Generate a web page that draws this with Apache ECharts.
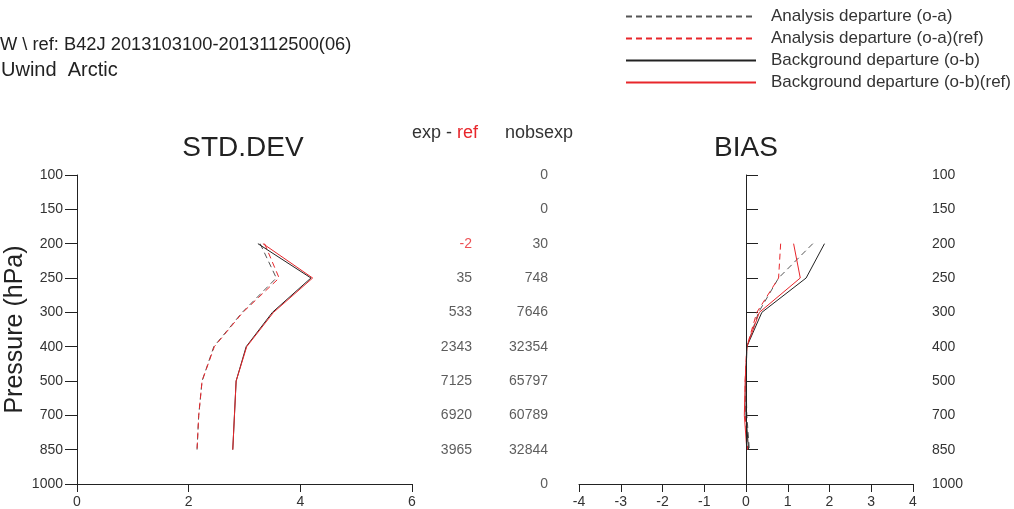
<!DOCTYPE html>
<html><head><meta charset="utf-8">
<script src="https://cdn.jsdelivr.net/npm/echarts@6/dist/echarts.min.js"></script>
<style>html,body{margin:0;padding:0;background:#fff}#c{width:1014px;height:509px}</style>
</head><body><div id="c"></div>
<script>
const levels = ['100','150','200','250','300','400','500','700','850','1000'];
// STD.DEV values per level (from 200 to 850 hPa)
const dataLevels = ['200','250','300','400','500','700','850'];
const stdOA    = [3.28, 3.57, 2.96, 2.45, 2.24, 2.18, 2.15];
const stdOAref = [3.36, 3.62, 2.97, 2.46, 2.24, 2.18, 2.15];
const stdOB    = [3.24, 4.19, 3.50, 3.03, 2.85, 2.82, 2.79];
const stdOBref = [3.33, 4.22, 3.52, 3.04, 2.85, 2.82, 2.79];
// BIAS values
const biasOA    = [1.60, 0.78, 0.30, 0.02, 0.00, 0.02, 0.08];
const biasOAref = [0.83, 0.78, 0.26, 0.02, -0.02, -0.02, 0.04];
const biasOB    = [1.88, 1.44, 0.38, 0.02, 0.00, 0.00, 0.06];
const biasOBref = [1.14, 1.30, 0.32, 0.02, -0.02, -0.04, 0.02];
// text columns
const expMinusRefLevels = ['200','250','300','400','500','700','850'];
const expMinusRef = ['-2','35','533','2343','7125','6920','3965'];
const nobsexp = ['0','0','30','748','7646','32354','65797','60789','32844','0'];
const stdTicks = [0, 6, 2];
const biasTicks = [-4, 4, 1];

const names = ['Analysis departure (o-a)','Analysis departure (o-a)(ref)','Background departure (o-b)','Background departure (o-b)(ref)'];
const styles = [
  {color:'#555555', type:[6,4]},
  {color:'#e8262b', type:[6,4]},
  {color:'#222222', type:'solid'},
  {color:'#e8262b', type:'solid'}
];
const FONT = 'Liberation Sans, Arial, sans-serif';
const pair = arr => arr.map((v,i)=>[v, dataLevels[i]]);

function mkSeries(arrs, xi){
  return arrs.map((a,k)=>({
    type:'line', name:names[k], xAxisIndex:xi, yAxisIndex:xi,
    data: pair(a), symbol:'none', silent:true, animation:false,
    lineStyle:{color:styles[k].color, type:styles[k].type, width:1},
    itemStyle:{color:styles[k].color}, z: k
  }));
}

const axisLineStyle = {lineStyle:{color:'#222', width:1}};
const labelStyle = {color:'#333', fontSize:14, fontFamily:FONT};

const series = [
  ...mkSeries([stdOA, stdOAref, stdOB, stdOBref], 0),
  ...mkSeries([biasOA, biasOAref, biasOB, biasOBref], 1),
  {
    type:'scatter', xAxisIndex:2, yAxisIndex:2, symbolSize:0, silent:true, animation:false,
    data: expMinusRef.map((t,i)=>({value:[52, expMinusRefLevels[i]],
      label:{show:true, position:'left', distance:0, formatter:t, color: t.startsWith('-')?'#e8262b':'#333', fontSize:14, fontFamily:FONT}}))
  },
  {
    type:'scatter', xAxisIndex:2, yAxisIndex:2, symbolSize:0, silent:true, animation:false,
    data: nobsexp.map((t,i)=>({value:[128, levels[i]],
      label:{show:true, position:'left', distance:0, formatter:t, color:'#333', fontSize:14, fontFamily:FONT}}))
  }
];
// vertical zero line in BIAS plot
series[4].markLine = {silent:true, symbol:'none', label:{show:false}, animation:false,
  lineStyle:{color:'#222', type:'solid', width:1}, data:[{xAxis:0}]};

const option = {
  backgroundColor:'#fff',
  animation:false,
  textStyle:{fontFamily:FONT},
  legend:{
    orient:'vertical', left:620, top:3, itemWidth:130, itemHeight:14, itemGap:5,
    selectedMode:false, data:names, itemStyle:{opacity:0},
    textStyle:{fontSize:17, color:'#333', fontFamily:FONT, padding:[0,0,0,10]}
  },
  grid:[
    {left:77, right:602, top:175, bottom:25},
    {left:579, right:101, top:175, bottom:25},
    {left:420, right:414, top:175, bottom:25}
  ],
  xAxis:[
    {type:'value', gridIndex:0, min:stdTicks[0], max:stdTicks[1], interval:stdTicks[2],
     axisLine:{show:true, ...axisLineStyle}, axisTick:{show:true, length:8, lineStyle:{color:'#222'}},
     axisLabel:{...labelStyle, margin:11}, splitLine:{show:false}},
    {type:'value', gridIndex:1, min:biasTicks[0], max:biasTicks[1], interval:biasTicks[2],
     axisLine:{show:true, ...axisLineStyle}, axisTick:{show:true, length:8, lineStyle:{color:'#222'}},
     axisLabel:{...labelStyle, margin:11}, splitLine:{show:false}},
    {type:'value', gridIndex:2, min:0, max:180, show:false}
  ],
  yAxis:[
    {type:'category', gridIndex:0, data:levels, inverse:true, boundaryGap:false,
     axisLine:{show:true, ...axisLineStyle}, axisTick:{show:true, length:12, lineStyle:{color:'#222'}},
     axisLabel:{...labelStyle, margin:14}, splitLine:{show:false},
     name:'Pressure (hPa)', nameLocation:'middle', nameGap:42, nameRotate:90,
     nameTextStyle:{fontSize:25, color:'#222', fontFamily:FONT}},
    {type:'category', gridIndex:1, data:levels, inverse:true, boundaryGap:false, position:'right',
     axisLine:{show:true, ...axisLineStyle}, axisTick:{show:true, length:12, lineStyle:{color:'#222'}},
     axisLabel:{...labelStyle, margin:19}, splitLine:{show:false}},
    {type:'category', gridIndex:2, data:levels, inverse:true, boundaryGap:false, show:false}
  ],
  graphic:[
    {type:'text', x:0, y:45, style:{text:'W \\ ref: B42J 2013103100-2013112500(06)', fontSize:18.3, fill:'#222', fontFamily:FONT, align:'left', verticalAlign:'middle'}},
    {type:'text', x:1, y:70, style:{text:'Uwind  Arctic', fontSize:20, fill:'#222', fontFamily:FONT, align:'left', verticalAlign:'middle'}},
    {type:'text', x:243, y:148, style:{text:'STD.DEV', fontSize:28, fill:'#222', fontFamily:FONT, align:'center', verticalAlign:'middle'}},
    {type:'text', x:746, y:148, style:{text:'BIAS', fontSize:28, fill:'#222', fontFamily:FONT, align:'center', verticalAlign:'middle'}},
    {type:'text', x:445, y:133, style:{rich:{a:{fontSize:18, fill:'#333', fontFamily:FONT}, b:{fontSize:18, fill:'#e8262b', fontFamily:FONT}}, text:'{a|exp - }{b|ref}', align:'center', verticalAlign:'middle'}},
    {type:'text', x:539, y:133, style:{text:'nobsexp', fontSize:18, fill:'#333', fontFamily:FONT, align:'center', verticalAlign:'middle'}}
  ],
  series
};
const chart = echarts.init(document.getElementById('c'), null, {renderer:'canvas'});
chart.setOption(option);
</script></body></html>
